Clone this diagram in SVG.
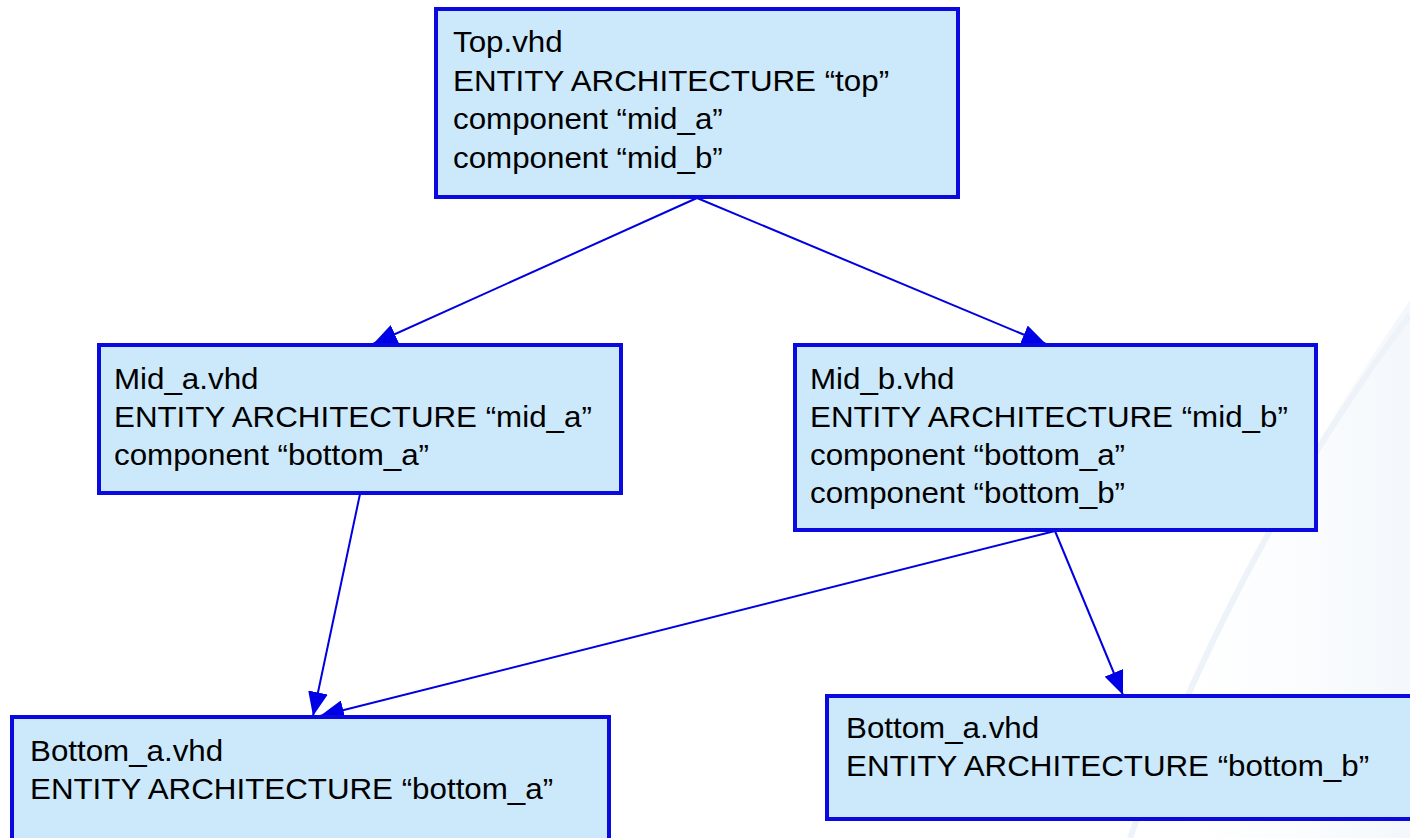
<svg xmlns="http://www.w3.org/2000/svg" width="1410" height="838" viewBox="0 0 1410 838">
  <defs>
    <linearGradient id="bgTint" x1="0" y1="0" x2="1" y2="0">
      <stop offset="0" stop-color="#ffffff" stop-opacity="0"/>
      <stop offset="1" stop-color="#e4eef8" stop-opacity="0.45"/>
    </linearGradient>
    <marker id="arrow" viewBox="0 0 24 20" refX="24" refY="10" markerWidth="24" markerHeight="20" markerUnits="userSpaceOnUse" orient="auto">
      <path d="M0,0 L24,10 L0,20 Z" fill="#0000e6"/>
    </marker>
    <style>
      .box { fill: #cce9fb; stroke: #0a0ae0; stroke-width: 4; }
      .lbl { font-family: "Liberation Sans", Arial, sans-serif; font-size: 29px; fill: #000000; }
      .edge { stroke: #0000e0; stroke-width: 2; fill: none; marker-end: url(#arrow); }
    </style>
  </defs>

  <rect x="0" y="0" width="1410" height="838" fill="#ffffff"/>
  <g id="background">
    <path d="M1410,300 Q1230,560 1120,838 L1410,838 Z" fill="url(#bgTint)"/>
    <path d="M1410,315 Q1240,540 1130,838" fill="none" stroke="#eef3f9" stroke-width="6"/>
  </g>

  <g id="connectors">
    <line class="edge" x1="697" y1="198" x2="373" y2="344"/>
    <line class="edge" x1="697" y1="198" x2="1046" y2="344"/>
    <line class="edge" x1="360" y1="494" x2="313" y2="716"/>
    <line class="edge" x1="1055" y1="531" x2="320" y2="716"/>
    <line class="edge" x1="1055" y1="531" x2="1123" y2="695"/>
  </g>

  <g id="node-top">
    <rect class="box" x="436" y="9" width="522" height="188"/>
    <g transform="translate(453,0) scale(1.08,1)">
      <text class="lbl" x="0" y="52">Top.vhd</text>
      <text class="lbl" x="0" y="91">ENTITY ARCHITECTURE “top”</text>
      <text class="lbl" x="0" y="129">component “mid_a”</text>
      <text class="lbl" x="0" y="168">component “mid_b”</text>
    </g>
  </g>

  <g id="node-mid-a">
    <rect class="box" x="99" y="345" width="522" height="148"/>
    <g transform="translate(114,0) scale(1.08,1)">
      <text class="lbl" x="0" y="389">Mid_a.vhd</text>
      <text class="lbl" x="0" y="427">ENTITY ARCHITECTURE “mid_a”</text>
      <text class="lbl" x="0" y="465">component “bottom_a”</text>
    </g>
  </g>

  <g id="node-mid-b">
    <rect class="box" x="795" y="345" width="521" height="185"/>
    <g transform="translate(810,0) scale(1.08,1)">
      <text class="lbl" x="0" y="389">Mid_b.vhd</text>
      <text class="lbl" x="0" y="427">ENTITY ARCHITECTURE “mid_b”</text>
      <text class="lbl" x="0" y="465">component “bottom_a”</text>
      <text class="lbl" x="0" y="503">component “bottom_b”</text>
    </g>
  </g>

  <g id="node-bottom-a">
    <rect class="box" x="12" y="717" width="597" height="140"/>
    <g transform="translate(30,0) scale(1.08,1)">
      <text class="lbl" x="0" y="761">Bottom_a.vhd</text>
      <text class="lbl" x="0" y="799">ENTITY ARCHITECTURE “bottom_a”</text>
    </g>
  </g>

  <g id="node-bottom-b">
    <rect class="box" x="827" y="696" width="600" height="123"/>
    <g transform="translate(846,0) scale(1.08,1)">
      <text class="lbl" x="0" y="738">Bottom_a.vhd</text>
      <text class="lbl" x="0" y="776">ENTITY ARCHITECTURE “bottom_b”</text>
    </g>
  </g>
</svg>
